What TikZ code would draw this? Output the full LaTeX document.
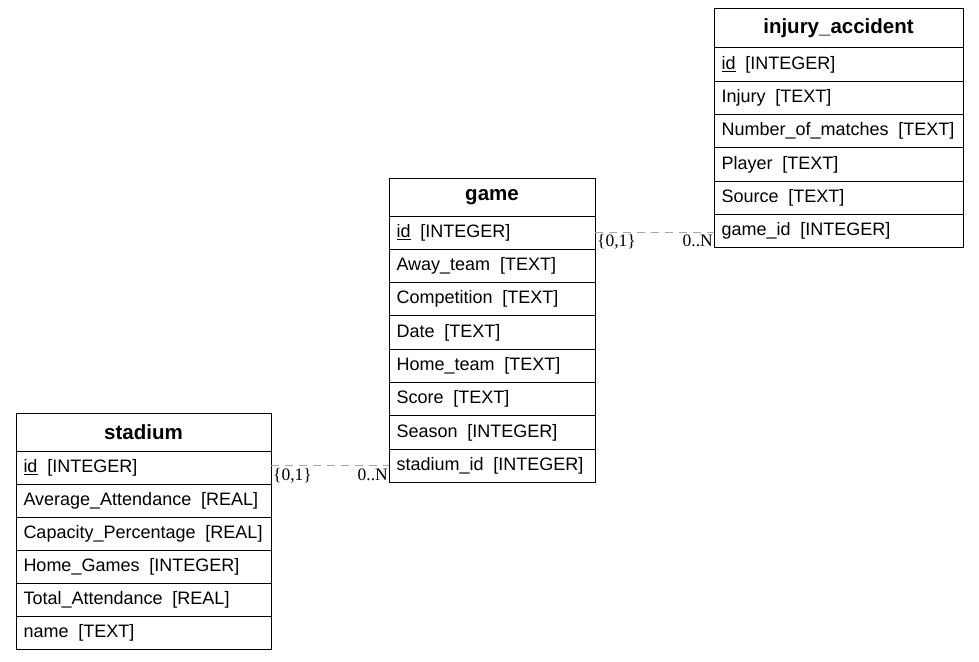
\documentclass[tikz,border=0pt]{standalone}
\usepackage{fontspec}
\setmainfont{Liberation Sans}
\newfontfamily\lblfont{Liberation Serif}
\tikzset{
 fld/.style={draw, line width=1pt, outer sep=0pt, anchor=north west, inner xsep=7.5pt, inner ysep=0pt, text width=#1, minimum height=33.3pt, align=left, font=\fontsize{18}{21}\selectfont},
 hdr/.style={draw, line width=1pt, outer sep=0pt, anchor=north west, inner xsep=7.5pt, inner ysep=0pt, text width=#1, minimum height=38pt, align=center, font=\bfseries\fontsize{20.5}{24}\selectfont},
 rel/.style={draw=gray!70, dash pattern=on 8pt off 6pt, line width=1pt},
 card/.style={font=\lblfont\fontsize{17.5}{20}\selectfont, inner sep=0pt}
}
\newcommand\sep{\hspace{0.55em}}
\begin{document}
\begin{tikzpicture}[x=1pt,y=-1pt]
\useasboundingbox (0,0) rectangle (979,661);
% stadium
\node[hdr=240] (sh) at (16,413) {stadium};
\node[fld=240, minimum height=33pt] (s1) at (sh.south west) {\mbox{\underline{id}\sep[INTEGER]}};
\node[fld=240, minimum height=33pt] (s2) at (s1.south west) {\mbox{Average\_Attendance\sep[REAL]}};
\node[fld=240, minimum height=33pt] (s3) at (s2.south west) {\mbox{Capacity\_Percentage\sep[REAL]}};
\node[fld=240, minimum height=33pt] (s4) at (s3.south west) {\mbox{Home\_Games\sep[INTEGER]}};
\node[fld=240, minimum height=33pt] (s5) at (s4.south west) {\mbox{Total\_Attendance\sep[REAL]}};
\node[fld=240, minimum height=33pt] (s6) at (s5.south west) {\mbox{name\sep[TEXT]}};
% game
\node[hdr=191] (gh) at (389,178) {game};
\node[fld=191] (g1) at (gh.south west) {\mbox{\underline{id}\sep[INTEGER]}};
\node[fld=191] (g2) at (g1.south west) {\mbox{Away\_team\sep[TEXT]}};
\node[fld=191] (g3) at (g2.south west) {\mbox{Competition\sep[TEXT]}};
\node[fld=191] (g4) at (g3.south west) {\mbox{Date\sep[TEXT]}};
\node[fld=191] (g5) at (g4.south west) {\mbox{Home\_team\sep[TEXT]}};
\node[fld=191] (g6) at (g5.south west) {\mbox{Score\sep[TEXT]}};
\node[fld=191] (g7) at (g6.south west) {\mbox{Season\sep[INTEGER]}};
\node[fld=191] (g8) at (g7.south west) {\mbox{stadium\_id\sep[INTEGER]}};
% injury_accident
\node[hdr=234, minimum height=39pt] (ih) at (714,9) {injury\_accident};
\node[fld=234] (i1) at (ih.south west) {\mbox{\underline{id}\sep[INTEGER]}};
\node[fld=234] (i2) at (i1.south west) {\mbox{Injury\sep[TEXT]}};
\node[fld=234] (i3) at (i2.south west) {\mbox{Number\_of\_matches\sep[TEXT]}};
\node[fld=234] (i4) at (i3.south west) {\mbox{Player\sep[TEXT]}};
\node[fld=234] (i5) at (i4.south west) {\mbox{Source\sep[TEXT]}};
\node[fld=234] (i6) at (i5.south west) {\mbox{game\_id\sep[INTEGER]}};
% relations
\draw[rel] (s1.east |- g8.west) -- (g8.west);
\node[card, anchor=base west] (c1) at ([shift={(2,15)}]s1.east |- g8.west) {\{0,1\}};
\node[card, anchor=base east] (c2) at ([shift={(-1,15)}]g8.west) {0..N};
\draw[rel] (g1.east) -- (g1.east -| i6.west);
\node[card, anchor=base west] (c3) at ([shift={(2,14)}]g1.east) {\{0,1\}};
\node[card, anchor=base east] (c4) at ([shift={(-1,14)}]g1.east -| i6.west) {0..N};
\end{tikzpicture}
\end{document}
